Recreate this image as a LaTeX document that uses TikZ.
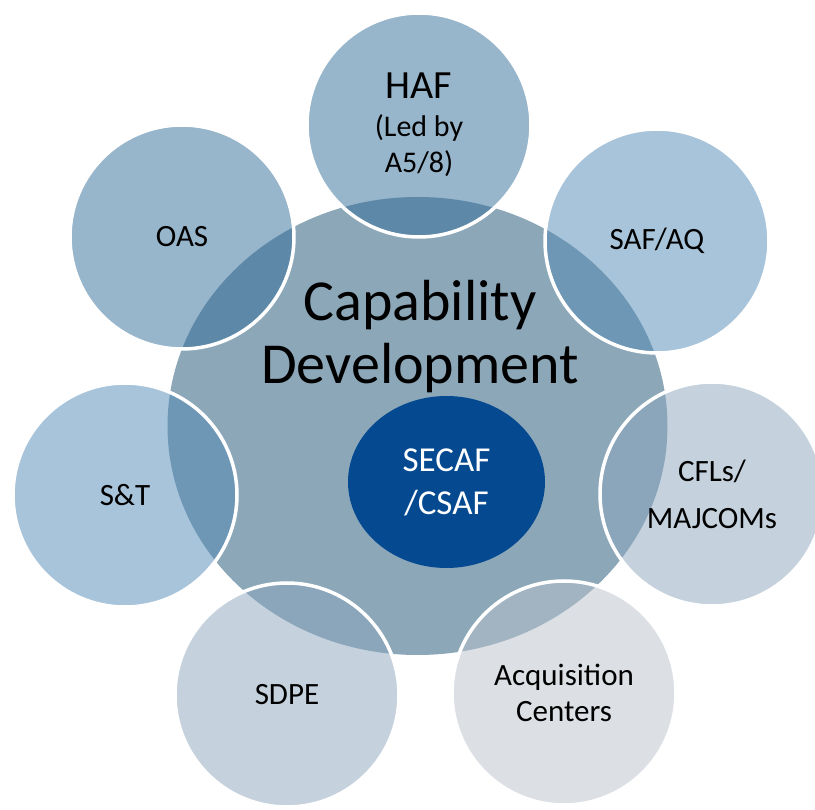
\documentclass[tikz,border=0pt]{standalone}
\usepackage{fontspec}
\setmainfont{Carlito}
\usetikzlibrary{shapes.geometric}
\definecolor{capfill}{HTML}{8CA7B8}
\definecolor{leadfill}{HTML}{054A91}
\definecolor{satdark}{HTML}{2F6B97}
\definecolor{satmid}{HTML}{5189B5}
\definecolor{satlight}{HTML}{8BA5BD}
\definecolor{satpale}{HTML}{B9C1CB}
\tikzset{
    sat/.style={circle, minimum size=224pt, inner sep=0pt, draw=white,
        line width=3.5pt, fill opacity=0.5, text opacity=1, align=center,
        font=\fontsize{31}{38}\selectfont}
}
\begin{document}
\begin{tikzpicture}[x=1pt, y=-1pt]
    \useasboundingbox (0,0) rectangle (815,810);
    % big circle and the lead in its middle
    \node[ellipse, minimum width=500pt, minimum height=458pt, fill=capfill]
        (capdev) at (417.5,426) {};
    \node[ellipse, minimum width=197pt, minimum height=172pt, fill=leadfill,
        text=white, align=center, font=\fontsize{35}{43}\selectfont]
        (lead) at (446.5,482) {SECAF\\/CSAF};
    % the seven around it
    \node[sat, fill=satdark] (haf) at (419,125)
        {{\fontsize{40}{40}\selectfont HAF}\\[0pt]
         {\fontsize{30}{34}\selectfont (Led by}\\[-2pt]
         {\fontsize{30}{34}\selectfont A5/8)}};
    \node[sat, fill=satmid] (safaq) at (657,241) {SAF/AQ};
    \node[sat, fill=satlight] (cfls) at (712,494) {CFLs/\\[9pt]MAJCOMs};
    \node[sat, fill=satpale] (acq) at (564,693) {Acquisition\\[-2pt]Centers};
    \node[sat, fill=satlight] (sdpe) at (287,695) {SDPE};
    \node[sat, fill=satmid] (snt) at (125,495) {S\&T};
    \node[sat, fill=satdark] (oas) at (182,237) {OAS};
    \node[align=center, font=\fontsize{58}{63}\selectfont]
        (captitle) at (420,337) {Capability\\Development};
\end{tikzpicture}
\end{document}
